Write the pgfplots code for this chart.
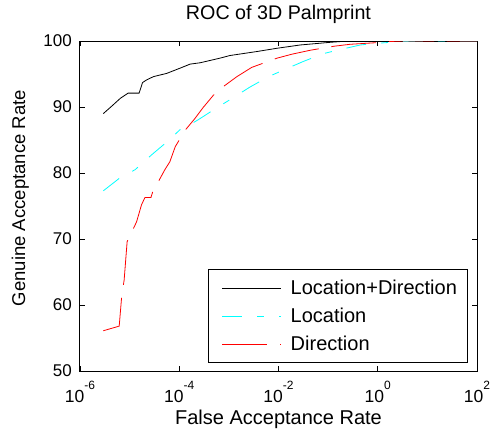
\documentclass[border=0pt]{standalone}
\usepackage{pgfplots}
\pgfplotsset{compat=1.18}
\usepackage{fontspec}
\setmainfont{Liberation Sans}
\definecolor{mcyan}{RGB}{0,255,255}
\definecolor{mred}{RGB}{255,0,0}
\newcommand{\ex}[1]{\mbox{10\raisebox{13bp}{\fontsize{12bp}{12bp}\selectfont #1}}}
\begin{document}
\begin{tikzpicture}
\useasboundingbox (0,0) rectangle (491bp,434bp);
\begin{axis}[
  at={(80bp,63bp)}, anchor=south west,
  scale only axis, width=397bp, height=330bp,
  xmode=log, xmin=1e-6, xmax=1e2, ymin=50, ymax=100,
  xtick={1e-6,1e-4,1e-2,1,1e2},
  xticklabels={\ex{-6},\ex{-4},\ex{-2},\ex{0},\ex{2}},
  ytick={50,60,70,80,90,100},
  xminorticks=false, yminorticks=false,
  /pgf/number format/assume math mode=true,
  axis line style={black, line width=1bp},
  major tick length=5bp,
  tick style={black, line width=0.8bp},
  xticklabel style={font=\fontsize{17.5bp}{20bp}\selectfont, anchor=base, yshift=-31bp, inner sep=0pt},
  yticklabel style={font=\fontsize{17bp}{20bp}\selectfont, anchor=east, xshift=-8bp, inner sep=0pt},
  title={ROC of 3D Palmprint},
  title style={font=\fontsize{19.7bp}{24bp}\selectfont, at={(axis description cs:0.5,1.0485)}, anchor=base, inner sep=0pt},
  xlabel={False Acceptance Rate},
  xlabel style={font=\fontsize{20bp}{24bp}\selectfont, at={(axis description cs:0.5,-0.1636)}, anchor=base, inner sep=0pt},
  ylabel={Genuine Acceptance Rate},
  ylabel style={font=\fontsize{18.5bp}{22bp}\selectfont, at={(axis description cs:-0.1385,0.524)}, anchor=base, rotate=0, inner sep=0pt},
  legend style={at={(axis description cs:1,0)}, anchor=south east, xshift=-9.3bp, yshift=7.7bp,
    draw=black, line width=0.9bp, fill=white,
    font=\fontsize{20bp}{24bp}\selectfont,
    inner xsep=10.3bp, inner ysep=9bp, row sep=8.7bp,
    nodes={inner sep=0pt, text height=16bp, text depth=3.3bp},
    /tikz/every odd column/.append style={column sep=9bp}},
  legend cell align=left,
  legend image code/.code={\path (0bp,0bp); \draw[#1] (3.1bp,0bp) -- (62.1bp,0bp);},
]
\addplot[black, line width=0.8bp] coordinates {
(2.95e-6,89.0) (4.47e-6,90.2) (6.46e-6,91.3) (9.33e-6,92.1) (1.55e-5,92.1)
(1.70e-5,93.0) (1.82e-5,93.7) (2.19e-5,94.1) (3.02e-5,94.6) (5.62e-5,95.1)
(1.05e-4,95.9) (1.66e-4,96.5) (2.63e-4,96.7) (6.61e-4,97.4) (1.05e-3,97.8)
(3.63e-3,98.4) (9.33e-3,98.9) (2.75e-2,99.4) (0.110,99.8) (0.251,100) (100,100)
};
\addlegendentry{Location+Direction}
\addplot[mcyan, line width=0.8bp, dash pattern=on 20bp off 15bp on 7bp off 15bp] coordinates {
(2.95e-6,77.3) (6.46e-6,79.3) (1.29e-5,80.5) (2.82e-5,82.8) (5.62e-5,84.7)
(1.05e-4,86.6) (1.32e-4,86.9) (2.45e-4,88.1) (5.75e-4,89.9) (1.05e-3,91.1)
(2.63e-3,93.0) (6.31e-3,94.6) (1.26e-2,95.6) (3.16e-2,96.9) (8.13e-2,98.1)
(0.174,98.7) (0.447,99.4) (0.955,99.65) (2.82,99.9) (6.31,100) (100,100)
};
\addlegendentry{Location}
\addplot[mred, line width=0.8bp, dash pattern=on 45bp off 13bp] coordinates {
(2.95e-6,56.1) (6.17e-6,56.8) (6.92e-6,61.3) (7.76e-6,63.8) (8.91e-6,69.6)
(1.02e-5,70.5) (1.38e-5,72.6) (1.74e-5,75.2) (2.04e-5,76.3) (2.69e-5,76.3)
(3.02e-5,77.5) (3.55e-5,78.3) (5.13e-5,80.5) (6.46e-5,81.7) (8.32e-5,84.0)
(1.32e-4,86.5) (2.09e-4,88.3) (3.09e-4,90.0) (4.90e-4,91.8) (7.76e-4,93.1)
(1.45e-3,94.6) (2.88e-3,96.0) (9.33e-3,97.4) (1.86e-2,98.0) (4.37e-2,98.6)
(0.129,99.2) (0.275,99.5) (0.955,99.75) (1.51,99.9) (3.16,100) (100,100)
};
\addlegendentry{Direction}
\end{axis}
\end{tikzpicture}
\end{document}
